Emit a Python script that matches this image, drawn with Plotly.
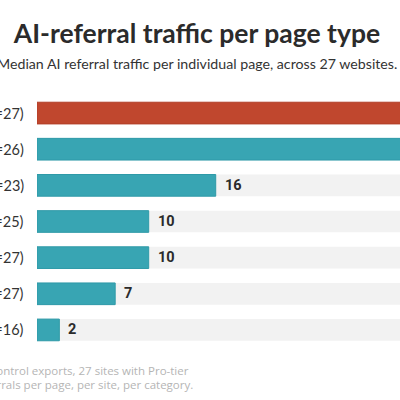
import plotly.graph_objects as go

categories = ["Homepage (n=27)", "Blog posts (n=26)", "Product pages (n=23)",
              "Docs pages (n=25)", "Category pages (n=27)", "About pages (n=27)",
              "Pricing pages (n=16)"]
values = [52, 38, 16, 10, 10, 7, 2]
value_labels = ["52", "38", "16", "10", "10", "7", "2"]
highlight = [True, False, False, False, False, False, False]
track_max = 60
x_view_max = 32.5

RED = "#c0472e"
TEAL = "#38a5b3"
TRACK = "#f2f2f2"

colors = [RED if h else TEAL for h in highlight]
line_colors = ["#b23f28" if h else "#2f9aa8" for h in highlight]

L, R, T, B = 37, 0, 95, 52
pw, ph = 400 - L - R, 400 - T - B

def px_x(x):
    return (x - L) / pw

def px_y(y):
    return ((400 - B) - y) / ph

fig = go.Figure()
fig.add_trace(go.Bar(
    y=categories, x=[track_max] * len(categories), orientation="h",
    marker=dict(color=TRACK, line=dict(width=0)), width=0.6,
    hoverinfo="skip", showlegend=False,
))
fig.add_trace(go.Bar(
    y=categories, x=values, orientation="h",
    marker=dict(color=colors, line=dict(color=line_colors, width=1)), width=0.6,
    showlegend=False,
))

annotations = []
for c, v, lab in zip(categories, values, value_labels):
    annotations.append(dict(
        x=v, y=c, xref="x", yref="y", text=lab, showarrow=False,
        xanchor="left", xshift=7,
        font=dict(family="Roboto", size=14.5, color="#2b2b2b", weight="bold"),
    ))
    annotations.append(dict(
        x=0, y=c, xref="paper", yref="y", text=c, showarrow=False,
        xanchor="right", xshift=-11,
        font=dict(family="Lato", size=14.5, color="#333333"),
    ))

annotations.append(dict(
    x=px_x(197), y=px_y(63), xref="paper", yref="paper", showarrow=False,
    text="Median AI referral traffic per individual page, across 27 websites.",
    font=dict(family="Lato", size=14.2, color="#333333"), xanchor="center", yanchor="middle",
))
annotations.append(dict(
    x=px_x(191), y=px_y(370), xref="paper", yref="paper", showarrow=False,
    text="Source: Cloudflare AI Crawl Control exports, 27 sites with Pro-tier",
    font=dict(family="Open Sans", size=11.5, color="#b5b5b5"), xanchor="right", yanchor="middle",
))
annotations.append(dict(
    x=px_x(195), y=px_y(384), xref="paper", yref="paper", showarrow=False,
    text="Metric: median AI referrals per page, per site, per category.",
    font=dict(family="Open Sans", size=11.5, color="#b5b5b5"), xanchor="right", yanchor="middle",
))

fig.update_layout(
    width=400, height=400,
    margin=dict(l=L, r=R, t=T, b=B),
    paper_bgcolor="white", plot_bgcolor="white",
    barmode="overlay",
    title=dict(text="<b>AI-referral traffic per page type</b>", x=197 / 400, xref="container",
               y=1 - 34 / 400, yref="container", xanchor="center", yanchor="middle",
               font=dict(family="Lato", size=26.5, color="#2b2b2b")),
    xaxis=dict(range=[0, x_view_max], visible=False, fixedrange=True),
    yaxis=dict(autorange="reversed", showticklabels=False, showgrid=False,
               zeroline=False, showline=False, ticks=""),
    annotations=annotations,
)
fig.write_html("out.html")
